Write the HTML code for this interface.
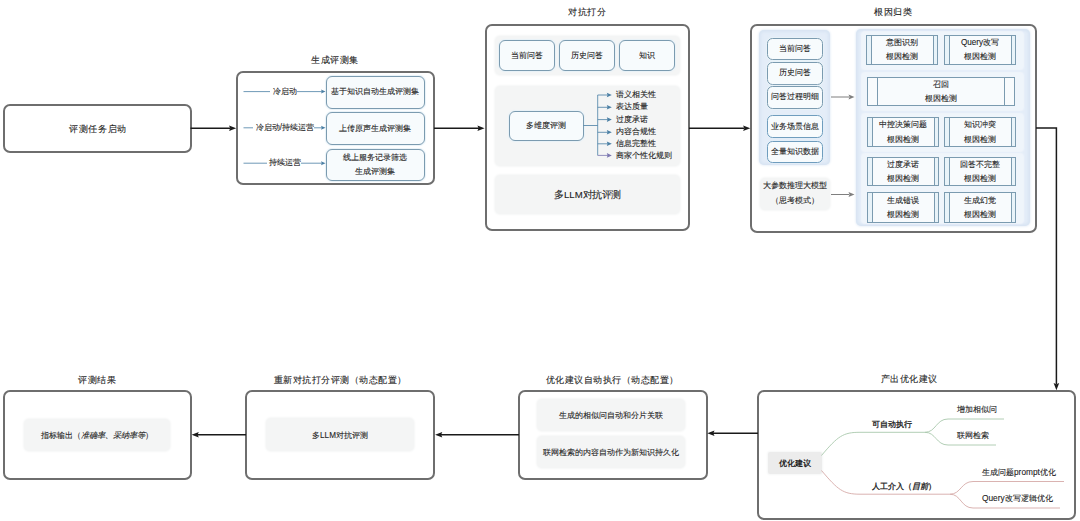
<!DOCTYPE html><html><head><meta charset="utf-8"><style>
*{margin:0;padding:0;box-sizing:border-box}
html,body{width:1080px;height:521px;overflow:hidden;background:#fff}
body{position:relative;font-family:"Liberation Sans",sans-serif;color:#222;-webkit-text-stroke:0.1px #222}
div{position:absolute}
.t{width:400px;height:40px;display:flex;align-items:center;justify-content:center;white-space:nowrap;font-size:9.55px;line-height:1;padding-top:0.5px}
.ts{font-size:8.15px}
.tm{font-size:8.3px}
.mb{border:2px solid #6e6e6e;border-radius:7px;background:#fff}
.bb{border:1px solid #7b9bb0;border-radius:6px;background:#f7fbfd;box-shadow:0 0 1px 1px #e8f2f8;display:flex;align-items:center;justify-content:center;text-align:center;font-size:8.15px;line-height:14.2px;white-space:nowrap;padding-top:1px}
.gp{background:#f4f5f5;border-radius:5px;box-shadow:0 0 2px 1px #f6f7f7;display:flex;align-items:center;justify-content:center;text-align:center;white-space:nowrap;font-size:8.15px;padding-top:1.5px}
.lp{background:#e4edf8;border-radius:5px;box-shadow:inset 0 0 3px 2px #d8e4f3,0 0 2px 1px #edf3fa}
.rp{background:#eff5fb;border-radius:3px;box-shadow:0 0 1.5px 1px #f0f5fb}
.pb{border:1px solid #7b9bb0;background:#f8fbfd;display:flex;align-items:center;justify-content:center;text-align:center;font-size:8.15px;line-height:14.2px;white-space:nowrap;padding-top:1px}
.pl{top:0;bottom:0;background:#e8f3f9}
svg{position:absolute;left:0;top:0}
</style></head><body>
<div class="t" style="left:134.60000000000002px;top:40px;"><span style="display:inline-block;transform:scale(0.95)">生成评测集</span></div>
<div class="t" style="left:386.5px;top:-8px;"><span style="display:inline-block;transform:scale(0.95)">对抗打分</span></div>
<div class="t" style="left:693px;top:-8px;"><span style="display:inline-block;transform:scale(0.95)">根因归类</span></div>
<div class="t" style="left:-103px;top:359.3px;"><span style="display:inline-block;transform:scale(0.95)">评测结果</span></div>
<div class="t" style="left:140px;top:359.3px;"><span style="display:inline-block;transform:scale(0.95)">重新对抗打分评测（动态配置）</span></div>
<div class="t" style="left:412px;top:359.3px;"><span style="display:inline-block;transform:scale(0.95)">优化建议自动执行（动态配置）</span></div>
<div class="t" style="left:709px;top:359px;"><span style="display:inline-block;transform:scale(0.95)">产出优化建议</span></div>
<div class="mb" style="left:2.5px;top:103.5px;width:189.00px;height:49.50px;"></div>
<div class="t" style="left:-102.5px;top:108.19999999999999px;"><span style="display:inline-block;transform:scale(0.96)">评测任务启动</span></div>
<div class="mb" style="left:236.0px;top:71.0px;width:199.00px;height:114.00px;"></div>
<div class="mb" style="left:484.5px;top:23.5px;width:205.50px;height:207.50px;"></div>
<div class="mb" style="left:750.0px;top:23.5px;width:287.00px;height:209.50px;"></div>
<div class="mb" style="left:757.0px;top:390.0px;width:319.00px;height:130.00px;"></div>
<div class="mb" style="left:518.0px;top:390.0px;width:189.50px;height:90.00px;"></div>
<div class="mb" style="left:245.0px;top:390.0px;width:190.00px;height:90.00px;"></div>
<div class="mb" style="left:2.75px;top:390.0px;width:189.25px;height:90.00px;"></div>
<div class="bb" style="left:325.5px;top:75.5px;width:99.50px;height:33.00px;">基于知识自动生成评测集</div>
<div class="bb" style="left:325.5px;top:112.0px;width:99.50px;height:33.00px;">上传原声生成评测集</div>
<div class="bb" style="left:325.5px;top:148.5px;width:99.50px;height:32.50px;">线上服务记录筛选<br>生成评测集</div>
<div class="gp" style="left:495px;top:36px;width:185.00px;height:39.00px;"></div>
<div class="bb" style="left:499.0px;top:40.25px;width:56.00px;height:30.75px;">当前问答</div>
<div class="bb" style="left:559.0px;top:40.25px;width:56.00px;height:30.75px;">历史问答</div>
<div class="bb" style="left:618.5px;top:40.25px;width:56.50px;height:30.75px;">知识</div>
<div class="gp" style="left:495px;top:86px;width:185.00px;height:79.50px;"></div>
<div class="bb" style="left:508.5px;top:110.5px;width:75.50px;height:30.00px;">多维度评测</div>
<div class="t ts" style="left:615.5px;top:75px;width:auto;justify-content:flex-start">语义相关性</div>
<div class="t ts" style="left:615.5px;top:87.3px;width:auto;justify-content:flex-start">表达质量</div>
<div class="t ts" style="left:615.5px;top:99.6px;width:auto;justify-content:flex-start">过度承诺</div>
<div class="t ts" style="left:615.5px;top:112.30000000000001px;width:auto;justify-content:flex-start">内容合规性</div>
<div class="t ts" style="left:615.5px;top:123.80000000000001px;width:auto;justify-content:flex-start">信息完整性</div>
<div class="t ts" style="left:615.5px;top:135.4px;width:auto;justify-content:flex-start">商家个性化规则</div>
<div class="gp" style="left:495px;top:174.5px;width:185.00px;height:39.00px;font-size:10px"><span style="display:inline-block;transform:scale(0.96)">多LLM对抗评测</span></div>
<div class="lp" style="left:759px;top:30px;width:71.00px;height:135.00px;"></div>
<div class="bb" style="left:767.0px;top:37.5px;width:56.00px;height:22.50px;border-radius:5.5px">当前问答</div>
<div class="bb" style="left:767.0px;top:61.5px;width:56.00px;height:23.00px;border-radius:5.5px">历史问答</div>
<div class="bb" style="left:767.0px;top:85.5px;width:56.00px;height:23.00px;border-radius:5.5px">问答过程明细</div>
<div class="bb" style="left:767.0px;top:115.0px;width:56.00px;height:22.50px;border-radius:5.5px;border-color:#6f9dbe;box-shadow:0 0 1px 1px #e3eef8">业务场景信息</div>
<div class="bb" style="left:767.0px;top:140.5px;width:56.00px;height:22.50px;border-radius:5.5px;border-color:#6f9dbe;box-shadow:0 0 1px 1px #e3eef8">全量知识数据</div>
<div class="gp" style="left:760px;top:178px;width:70.00px;height:32.00px;line-height:14.8px;padding-top:0">大参数推理大模型<br>（思考模式）</div>
<div class="lp" style="left:856px;top:29px;width:173.50px;height:196.50px;"></div>
<div class="rp" style="left:862px;top:32px;width:161.00px;height:36.50px;"></div>
<div class="rp" style="left:862px;top:72.5px;width:161.00px;height:37.50px;"></div>
<div class="rp" style="left:862px;top:113.5px;width:161.00px;height:37.00px;"></div>
<div class="rp" style="left:862px;top:153.5px;width:161.00px;height:69.50px;"></div>
<div class="pb" style="left:866px;top:35px;width:72px;height:29.5px"><div class="pl" style="left:0;width:5px;border-right:1px solid #7b9bb0;"></div><div class="pl" style="right:0;width:4px;border-left:1px solid #7b9bb0;"></div><span style="position:relative">意图识别<br>根因检测</span></div>
<div class="pb" style="left:944px;top:35px;width:72px;height:29.5px"><div class="pl" style="left:0;width:5px;border-right:1px solid #7b9bb0;"></div><div class="pl" style="right:0;width:4px;border-left:1px solid #7b9bb0;"></div><span style="position:relative">Query改写<br>根因检测</span></div>
<div class="pb" style="left:866.5px;top:77px;width:148.5px;height:29px"><div class="pl" style="left:0;width:10px;border-right:1px solid #7b9bb0;background:#f8fbfd"></div><div class="pl" style="right:0;width:10px;border-left:1px solid #7b9bb0;background:#f8fbfd"></div><span style="position:relative">召回<br>根因检测</span></div>
<div class="pb" style="left:866.5px;top:117px;width:72.0px;height:30px"><div class="pl" style="left:0;width:5px;border-right:1px solid #7b9bb0;"></div><div class="pl" style="right:0;width:4px;border-left:1px solid #7b9bb0;"></div><span style="position:relative">中控决策问题<br>根因检测</span></div>
<div class="pb" style="left:944px;top:117px;width:72px;height:30px"><div class="pl" style="left:0;width:5px;border-right:1px solid #7b9bb0;"></div><div class="pl" style="right:0;width:4px;border-left:1px solid #7b9bb0;"></div><span style="position:relative">知识冲突<br>根因检测</span></div>
<div class="pb" style="left:867px;top:157px;width:71.5px;height:29px"><div class="pl" style="left:0;width:5px;border-right:1px solid #7b9bb0;"></div><div class="pl" style="right:0;width:4px;border-left:1px solid #7b9bb0;"></div><span style="position:relative">过度承诺<br>根因检测</span></div>
<div class="pb" style="left:944px;top:157px;width:72px;height:29px"><div class="pl" style="left:0;width:5px;border-right:1px solid #7b9bb0;"></div><div class="pl" style="right:0;width:4px;border-left:1px solid #7b9bb0;"></div><span style="position:relative">回答不完整<br>根因检测</span></div>
<div class="pb" style="left:867px;top:192px;width:71.5px;height:30.5px"><div class="pl" style="left:0;width:5px;border-right:1px solid #7b9bb0;"></div><div class="pl" style="right:0;width:4px;border-left:1px solid #7b9bb0;"></div><span style="position:relative">生成错误<br>根因检测</span></div>
<div class="pb" style="left:944px;top:192px;width:72px;height:30.5px"><div class="pl" style="left:0;width:5px;border-right:1px solid #7b9bb0;"></div><div class="pl" style="right:0;width:4px;border-left:1px solid #7b9bb0;"></div><span style="position:relative">生成幻觉<br>根因检测</span></div>
<div class="gp" style="left:536.5px;top:399px;width:148.50px;height:32.00px;">生成的相似问自动和分片关联</div>
<div class="gp" style="left:536.5px;top:435.5px;width:148.50px;height:32.50px;">联网检索的内容自动作为新知识持久化</div>
<div class="gp" style="left:266px;top:418px;width:148.00px;height:33.00px;">多LLM对抗评测</div>
<div class="gp" style="left:23.5px;top:418.7px;width:146.50px;height:32.60px;">指标输出（<i>准确率、采纳率等</i>）</div>
<div class="gp" style="left:768px;top:452px;width:53.50px;height:22.00px;font-size:8.15px;background:#ececec;border-radius:2px;padding-top:1px"><b style="-webkit-text-stroke:0">优化建议</b></div>
<div class="t tm" style="left:871.6px;top:403.5px;width:auto;justify-content:flex-start;-webkit-text-stroke:0.3px #222">可自动执行</div>
<div class="t tm" style="left:871.6px;top:466px;width:auto;justify-content:flex-start;-webkit-text-stroke:0.3px #222">人工介入（<i>目前</i>）</div>
<div class="t tm" style="left:957px;top:389px;width:auto;justify-content:flex-start;">增加相似问</div>
<div class="t tm" style="left:957px;top:414.8px;width:auto;justify-content:flex-start;">联网检索</div>
<div class="t tm" style="left:982px;top:451.5px;width:auto;justify-content:flex-start;">生成问题prompt优化</div>
<div class="t tm" style="left:982px;top:477.6px;width:auto;justify-content:flex-start;">Query改写逻辑优化</div>
<svg width="1080" height="521" viewBox="0 0 1080 521">
<g stroke="#1a1a1a" stroke-width="1.5" fill="none">
<path d="M190.5,128.2 H230"/>
<path d="M236.20,128.20 L229.00,131.00 L230.20,128.20 L229.00,125.40 z" fill="#1a1a1a" stroke="none"/>
<path d="M434,128.2 H479"/>
<path d="M484.60,128.20 L477.40,131.00 L478.60,128.20 L477.40,125.40 z" fill="#1a1a1a" stroke="none"/>
<path d="M689,128.2 H744"/>
<path d="M750.30,128.20 L743.10,131.00 L744.30,128.20 L743.10,125.40 z" fill="#1a1a1a" stroke="none"/>
<path d="M1036,127.9 H1056.4 V384"/>
<path d="M1056.40,390.30 L1053.60,383.10 L1056.40,384.30 L1059.20,383.10 z" fill="#1a1a1a" stroke="none"/>
<path d="M758,433.2 H713"/>
<path d="M707.30,433.20 L714.50,430.40 L713.30,433.20 L714.50,436.00 z" fill="#1a1a1a" stroke="none"/>
<path d="M519,434.8 H441"/>
<path d="M435.10,434.80 L442.30,432.00 L441.10,434.80 L442.30,437.60 z" fill="#1a1a1a" stroke="none"/>
<path d="M246,434.8 H197"/>
<path d="M191.60,434.80 L198.80,432.00 L197.60,434.80 L198.80,437.60 z" fill="#1a1a1a" stroke="none"/>
</g>
<g stroke="#4a7fa4" stroke-width="0.8" fill="none">
<path d="M243.5,91.6 H322"/>
<path d="M325.50,91.60 L321.00,93.60 L321.80,91.60 L321.00,89.60 z" fill="#4a7fa4" stroke="none"/>
<path d="M243.5,127.8 H322"/>
<path d="M325.50,127.80 L321.00,129.80 L321.80,127.80 L321.00,125.80 z" fill="#4a7fa4" stroke="none"/>
<path d="M243.5,163.2 H322"/>
<path d="M325.50,163.20 L321.00,165.20 L321.80,163.20 L321.00,161.20 z" fill="#4a7fa4" stroke="none"/>
<path d="M583.5,125.5 H597.7 M597.7,95 V155.4"/>
<path d="M597.7,95 H608" stroke="#4a7fa4"/><path d="M611.80,95.00 L606.80,97.30 L607.60,95.00 L606.80,92.70 z" fill="#4a7fa4" stroke="none"/>
<path d="M597.7,107.3 H608" stroke="#4a7fa4"/><path d="M611.80,107.30 L606.80,109.60 L607.60,107.30 L606.80,105.00 z" fill="#4a7fa4" stroke="none"/>
<path d="M597.7,119.6 H608" stroke="#4a7fa4"/><path d="M611.80,119.60 L606.80,121.90 L607.60,119.60 L606.80,117.30 z" fill="#4a7fa4" stroke="none"/>
<path d="M597.7,132.3 H608" stroke="#4a7fa4"/><path d="M611.80,132.30 L606.80,134.60 L607.60,132.30 L606.80,130.00 z" fill="#4a7fa4" stroke="none"/>
<path d="M597.7,143.8 H608" stroke="#4a7fa4"/><path d="M611.80,143.80 L606.80,146.10 L607.60,143.80 L606.80,141.50 z" fill="#4a7fa4" stroke="none"/>
<path d="M597.7,155.4 H608" stroke="#7a76b0"/><path d="M611.80,155.40 L606.80,157.70 L607.60,155.40 L606.80,153.10 z" fill="#7a76b0" stroke="none"/>
</g>
<g stroke="#7f7f7f" stroke-width="1" fill="none">
<path d="M831,97 H849"/>
<path d="M854.50,97.00 L848.50,99.50 L849.50,97.00 L848.50,94.50 z" fill="#7f7f7f" stroke="none"/>
<path d="M831,194.5 H849"/>
<path d="M854.50,194.50 L848.50,197.00 L849.50,194.50 L848.50,192.00 z" fill="#7f7f7f" stroke="none"/>
</g>
<g stroke="#a9c8ad" stroke-width="0.9" fill="none">
<path d="M821.5,455.5 C838,436 843,432.3 860,432.3 H925 C936,432.3 936,419 948,419 H1004"/>
<path d="M925,432.3 C936,432.3 936,445 948,445 H996"/>
</g>
<g stroke="#d6aaa8" stroke-width="0.9" fill="none">
<path d="M821.5,470.5 C838,490 843,494.2 860,494.2 H950 C961,494.2 961,481.5 973,481.5 H1064"/>
<path d="M950,494.2 C961,494.2 961,508 973,508 H1060"/>
</g>
</svg>
<div class="t ts" style="left:83.70000000000002px;top:71.5px"><span style="background:#fff;padding:0 0 0 2.5px">冷启动</span></div>
<div class="t ts" style="left:83.70000000000002px;top:107.5px"><span style="background:#fff;padding:0 0 0 2.5px">冷启动/持续运营</span></div>
<div class="t ts" style="left:83.9px;top:143px"><span style="background:#fff;padding:0 0 0 2.5px">持续运营</span></div>
</body></html>
